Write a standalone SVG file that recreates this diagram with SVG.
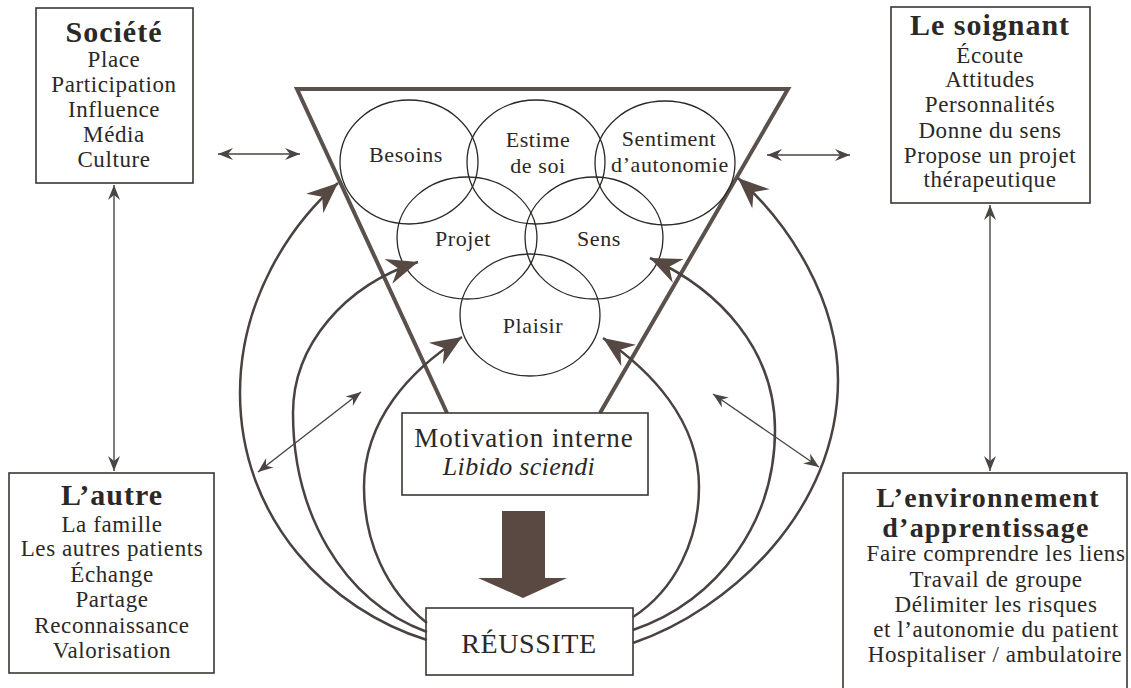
<svg xmlns="http://www.w3.org/2000/svg" width="1131" height="688" viewBox="0 0 1131 688">
<style>
  text { font-family: "Liberation Serif", "Times New Roman", serif; fill: #2b2826; text-anchor: middle; }
  .title { font-weight: bold; font-size: 30px; letter-spacing: 1px; }
  .title2 { font-weight: bold; font-size: 28px; letter-spacing: 1.2px; }
  .body { font-size: 23px; letter-spacing: 0.6px; }
  .ctext { font-size: 22px; letter-spacing: 0.6px; }
  .box { fill: #ffffff; stroke: #3a3634; stroke-width: 1.6; }
  .circ { fill: none; stroke: #2b2826; stroke-width: 1.3; }
  .cone { fill: none; stroke: #5a514d; stroke-width: 4; stroke-linejoin: miter; }
  .thin { fill: none; stroke: #4a4442; stroke-width: 1.4; marker-start: url(#th); marker-end: url(#th); }
  .thick { fill: none; stroke: #4a4240; stroke-width: 2.5; marker-end: url(#bh); }
</style>
<defs>
  <marker id="th" markerUnits="userSpaceOnUse" viewBox="-16 -7 17 14" refX="0" refY="0" markerWidth="17" markerHeight="14" orient="auto-start-reverse">
    <path d="M0,0 L-15,-6 L-10,0 L-15,6 Z" fill="#4a4442"/>
  </marker>
  <marker id="bh" markerUnits="userSpaceOnUse" viewBox="-32 -15 34 30" refX="0" refY="0" markerWidth="34" markerHeight="30" orient="auto">
    <path d="M0,0 L-31,-13 L-21,0 L-31,13 Z" fill="#564843"/>
  </marker>
</defs>
<rect width="1131" height="688" fill="#ffffff"/>

<g id="cone">
  <path class="cone" d="M447,413 L297,89 L788,89 L600,413"/>
</g>

<g id="circle-besoins"><ellipse class="circ" cx="409" cy="162" rx="69" ry="62"/><text class="ctext" x="406" y="162">Besoins</text></g>
<g id="circle-estime"><ellipse class="circ" cx="536" cy="162" rx="69" ry="62"/><text class="ctext" x="538" y="147">Estime</text><text class="ctext" x="538" y="173">de soi</text></g>
<g id="circle-sentiment"><ellipse class="circ" cx="665" cy="163" rx="70" ry="62"/><text class="ctext" x="669" y="146">Sentiment</text><text class="ctext" x="670" y="172">d’autonomie</text></g>
<g id="circle-projet"><ellipse class="circ" cx="467" cy="238" rx="70" ry="61"/><text class="ctext" x="463" y="246">Projet</text></g>
<g id="circle-sens"><ellipse class="circ" cx="594" cy="238" rx="69" ry="61"/><text class="ctext" x="599" y="246">Sens</text></g>
<g id="circle-plaisir"><ellipse class="circ" cx="530" cy="315" rx="70" ry="61"/><text class="ctext" x="533" y="333">Plaisir</text></g>

<g id="societe">
  <rect class="box" x="36" y="8" width="157" height="175"/>
  <text class="title" x="114" y="42">Société</text>
  <text class="body" x="114" y="67">Place</text>
  <text class="body" x="114" y="92">Participation</text>
  <text class="body" x="114" y="117">Influence</text>
  <text class="body" x="114" y="142">Média</text>
  <text class="body" x="114" y="167">Culture</text>
</g>

<g id="soignant">
  <rect class="box" x="891" y="7" width="199" height="196"/>
  <text class="title" x="990" y="35">Le soignant</text>
  <text class="body" x="990" y="63">Écoute</text>
  <text class="body" x="990" y="87">Attitudes</text>
  <text class="body" x="990" y="112">Personnalités</text>
  <text class="body" x="990" y="138">Donne du sens</text>
  <text class="body" x="990" y="163">Propose un projet</text>
  <text class="body" x="990" y="187">thérapeutique</text>
</g>

<g id="autre">
  <rect class="box" x="9" y="473" width="205" height="200"/>
  <text class="title" x="112" y="505">L’autre</text>
  <text class="body" x="112" y="532">La famille</text>
  <text class="body" x="112" y="556">Les autres patients</text>
  <text class="body" x="112" y="582">Échange</text>
  <text class="body" x="112" y="607">Partage</text>
  <text class="body" x="112" y="633">Reconnaissance</text>
  <text class="body" x="112" y="658">Valorisation</text>
</g>

<g id="environnement">
  <rect class="box" x="843" y="473" width="284" height="222"/>
  <text class="title2" x="988" y="507">L’environnement</text>
  <text class="title2" x="986" y="537">d’apprentissage</text>
  <text class="body" x="996" y="561">Faire comprendre les liens</text>
  <text class="body" x="996" y="587">Travail de groupe</text>
  <text class="body" x="996" y="612">Délimiter les risques</text>
  <text class="body" x="996" y="637">et l’autonomie du patient</text>
  <text class="body" x="995" y="662">Hospitaliser / ambulatoire</text>
</g>

<g id="motivation">
  <rect class="box" x="402" y="413" width="246" height="82"/>
  <text x="524" y="447" style="font-size:27px;letter-spacing:1px">Motivation interne</text>
  <text x="519" y="475" style="font-size:26px;font-style:italic;letter-spacing:0.3px">Libido sciendi</text>
</g>

<g id="big-arrow">
  <polygon points="502,511 545,511 545,578 567,578 523,598 478,578 502,578" fill="#5a4943"/>
</g>

<g id="reussite">
  <rect class="box" x="426" y="608" width="207" height="67"/>
  <text x="529" y="653" style="font-size:28px;letter-spacing:0.6px">RÉUSSITE</text>
</g>

<g id="connectors">
  <path class="thin" d="M218,154 L300,154"/>
  <path class="thin" d="M767,155 L850,155"/>
  <path class="thin" d="M114,185 L114,471"/>
  <path class="thin" d="M990,205 L990,471"/>
  <path class="thin" d="M258,472 L361,392"/>
  <path class="thin" d="M713,394 L819,467"/>
  <path class="thick" d="M427,640 C330,610 240,520 240,393 C240,300 290,225 338,183"/>
  <path class="thick" d="M427,632 C340,600 293,510 293,413 C293,345 345,285 418,262"/>
  <path class="thick" d="M427,623 C385,590 364,540 364,487 C364,420 410,370 462,337"/>
  <path class="thick" d="M633,643 C730,610 838,510 838,380 C838,300 790,225 738,178"/>
  <path class="thick" d="M633,630 C720,600 775,520 775,430 C775,350 720,290 650,258"/>
  <path class="thick" d="M633,617 C675,590 699,540 699,487 C699,420 650,370 603,338"/>
</g>
</svg>
